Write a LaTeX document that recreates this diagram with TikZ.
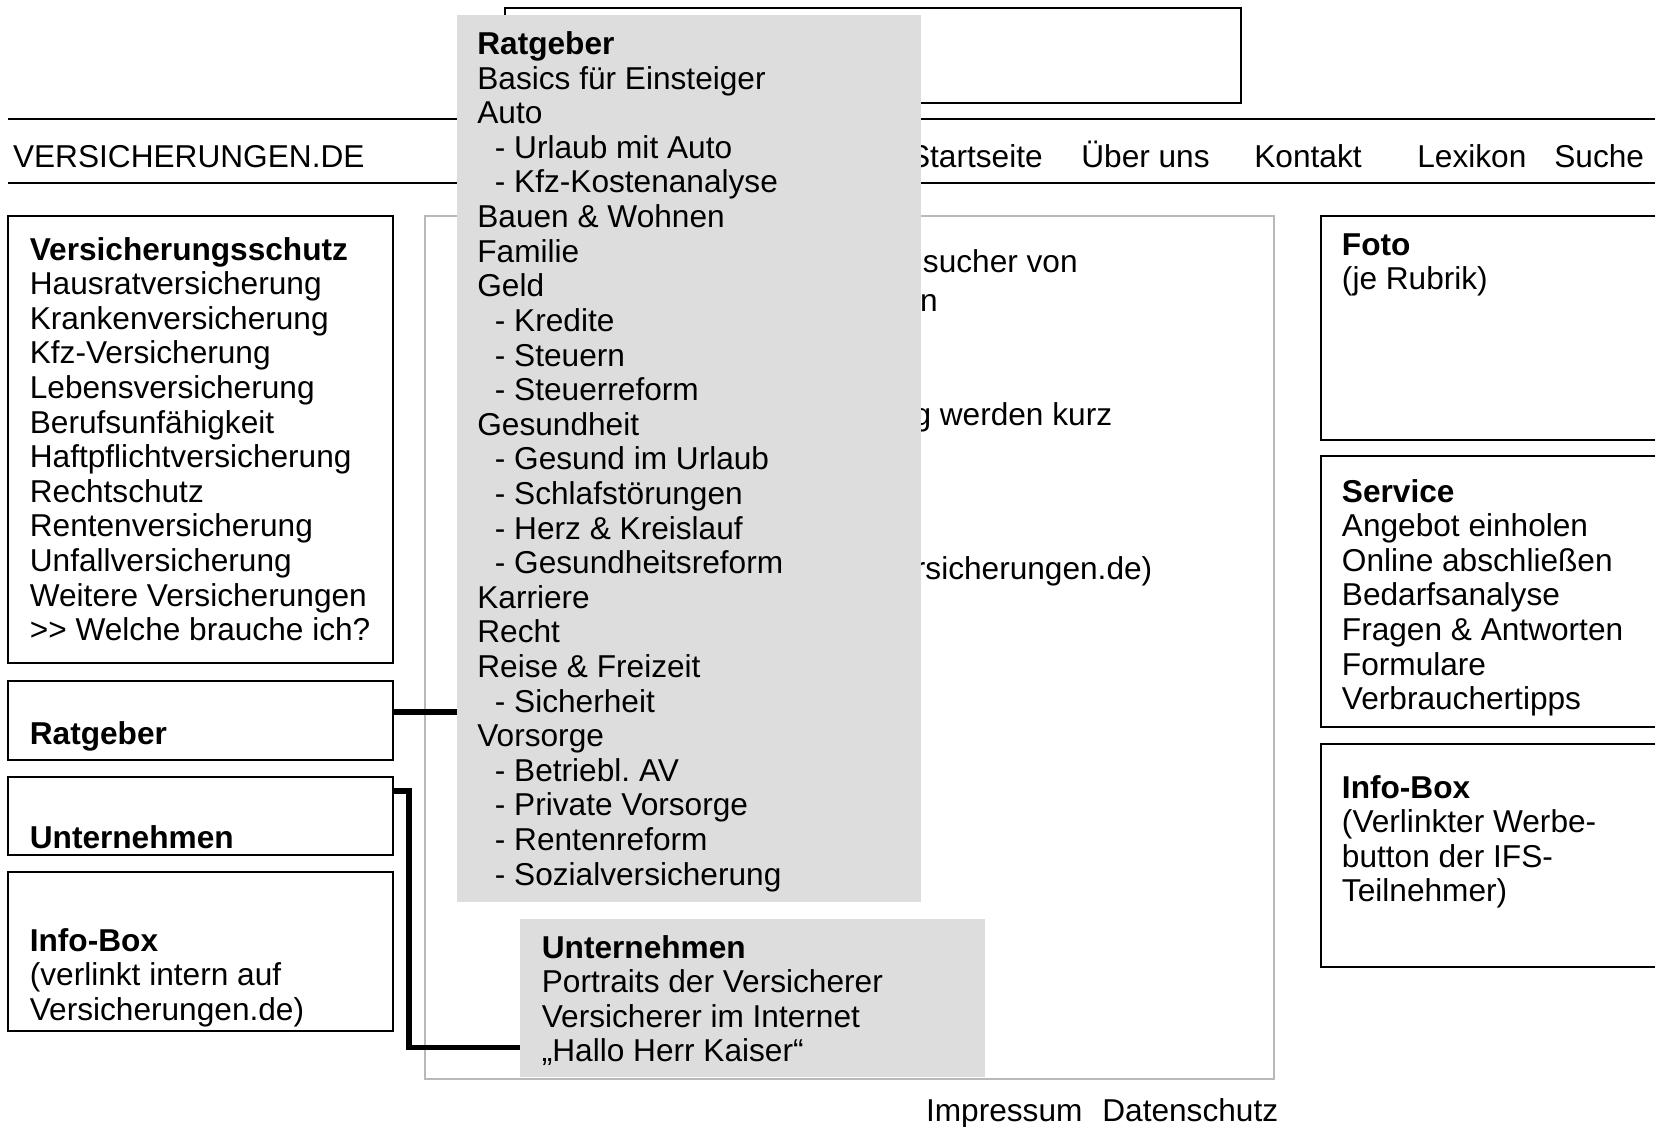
\documentclass[tikz,border=0pt]{standalone}
\usepackage{fontspec}
\setmainfont{Liberation Sans}
\usetikzlibrary{fit}

\definecolor{menugray}{RGB}{221,221,221}
\definecolor{framegray}{RGB}{185,185,185}
\newcommand{\einzug}{\hspace*{10pt}}
\newcommand{\zeilen}[1]{\begin{tabular}[t]{@{}l@{}}#1\end{tabular}}

\tikzset{
  box/.style={draw, line width=0.9pt, inner sep=0pt},
  menu/.style={fill=menugray, inner sep=0pt},
  txt/.style={anchor=base west, inner sep=0pt, font=\fontsize{18}{19.7}\selectfont},
  cut/.style={anchor=base east, inner sep=0pt, font=\fontsize{18}{19.7}\selectfont},
  rule/.style={line width=1.1pt},
  link/.style={line width=3.1pt}
}

\begin{document}
\begin{tikzpicture}[x=0.02cm, y=-0.02cm]
\useasboundingbox (0,0) rectangle (1655,1126);

% Kopf
\draw[rule] (8,119) -- (1660,119);
\draw[rule] (8,183) -- (1660,183);
\node[box, fit={(505,8) (1241,103)}] (banner) {};

\node[txt] (logo) at (12.7,167) {VERSICHERUNGEN.DE};
\node[cut] (start) at (1043,167) {Startseite};
\node[txt] (ueber) at (1081,167) {Über uns};
\node[txt] (kontakt) at (1254,167) {Kontakt};
\node[txt] (lexikon) at (1417,167) {Lexikon};
\node[txt] (suche) at (1554,167) {Suche};

% Inhalt
\node[draw=framegray, line width=0.8pt, inner sep=0pt, fit={(425,216) (1274,1079)}] (inhalt) {};
\node[cut] (zeileA) at (1078,272) {sucher von};
\node[cut] (zeileB) at (938,311) {n};
\node[cut] (zeileC) at (1112.5,425) {g werden kurz};
\node[cut] (zeileD) at (1152.6,579) {rsicherungen.de)};

% linke Spalte
\node[box, fit={(8,216) (393,663)}] (schutz) {};
\node[txt] (schutztext) at (29.5,260) {\zeilen{\textbf{Versicherungsschutz}\\Hausratversicherung\\Krankenversicherung\\Kfz-Versicherung\\Lebensversicherung\\Berufsunfähigkeit\\Haftpflichtversicherung\\Rechtschutz\\Rentenversicherung\\Unfallversicherung\\Weitere Versicherungen\\>{}> Welche brauche ich?}};

\node[box, fit={(8,681) (393,760)}] (ratbox) {};
\node[txt] (rattext) at (29.5,744.5) {\textbf{Ratgeber}};

\node[box, fit={(8,777) (393,855)}] (unbox) {};
\node[txt] (untext) at (29.5,848) {\textbf{Unternehmen}};

\node[box, fit={(8,872) (393,1031)}] (infolinks) {};
\node[txt] (infolinkstext) at (29.5,951) {\zeilen{\textbf{Info-Box}\\(verlinkt intern auf\\Versicherungen.de)}};

% rechte Spalte
\node[box, fit={(1321,216) (1680,440)}] (foto) {};
\node[txt] (fototext) at (1341.6,255) {\zeilen{\textbf{Foto}\\(je Rubrik)}};

\node[box, fit={(1321,456) (1680,727)}] (service) {};
\node[txt] (servicetext) at (1341.6,502) {\zeilen{\textbf{Service}\\Angebot einholen\\Online abschließen\\Bedarfsanalyse\\Fragen \& Antworten\\Formulare\\Verbrauchertipps}};

\node[box, fit={(1321,744) (1680,967)}] (inforechts) {};
\node[txt] (inforechtstext) at (1341.6,798) {\zeilen{\textbf{Info-Box}\\(Verlinkter Werbe-\\button der IFS-\\Teilnehmer)}};

% Aufklapp-Menues
\node[menu, fit={(457,15) (921,902)}] (ratmenu) {};
\node[txt] (ratmenutext) at (477,54.5) {\zeilen{\textbf{Ratgeber}\\Basics für Einsteiger\\Auto\\\einzug- Urlaub mit Auto\\\einzug- Kfz-Kostenanalyse\\Bauen \& Wohnen\\Familie\\Geld\\\einzug- Kredite\\\einzug- Steuern\\\einzug- Steuerreform\\Gesundheit\\\einzug- Gesund im Urlaub\\\einzug- Schlafstörungen\\\einzug- Herz \& Kreislauf\\\einzug- Gesundheitsreform\\Karriere\\Recht\\Reise \& Freizeit\\\einzug- Sicherheit\\Vorsorge\\\einzug- Betriebl.\ AV\\\einzug- Private Vorsorge\\\einzug- Rentenreform\\\einzug- Sozialversicherung}};

\node[menu, fit={(520,919) (985,1077)}] (unmenu) {};
\node[txt] (unmenutext) at (541.5,958) {\zeilen{\textbf{Unternehmen}\\Portraits der Versicherer\\Versicherer im Internet\\„Hallo Herr Kaiser“}};

% Verbindungen
\coordinate (ratjoint) at ([yshift=0.17cm]ratbox.east);
\draw[link] (ratjoint) -- (ratjoint -| ratmenu.west);
\coordinate (unjoint) at ([yshift=-0.3cm]unbox.north east);
\coordinate (unend) at ([yshift=0.6cm]unmenu.south west);
\draw[link] (unjoint) -- ++(15,0) |- (unend);

% Fuss
\node[txt] (impressum) at (925.7,1121) {Impressum};
\node[txt] (datenschutz) at (1102,1121) {Datenschutz};
\end{tikzpicture}
\end{document}
